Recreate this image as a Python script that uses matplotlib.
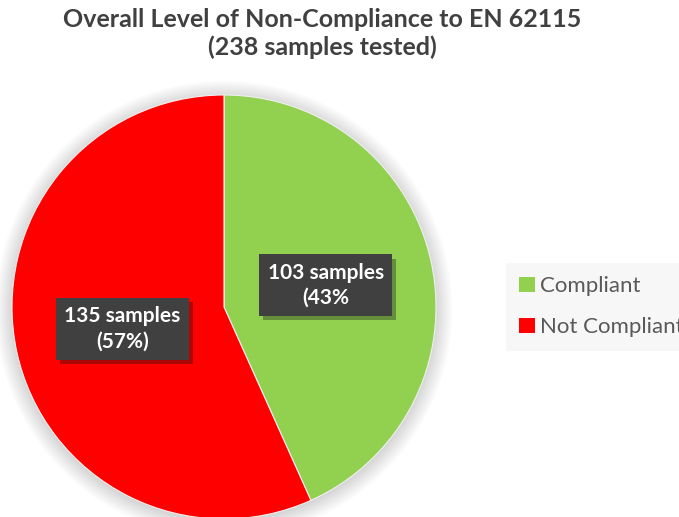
import matplotlib
matplotlib.use("Agg")
import matplotlib.pyplot as plt
import matplotlib.patheffects as pe
from matplotlib.patches import Patch, Circle

categories = ["Compliant", "Not Compliant"]
samples = [103, 135]
box_labels = ["103 samples\n(43%", "135 samples\n(57%)"]
colours = ["#92D050", "#FF0000"]

W, H = 679, 517
fig = plt.figure(figsize=(W / 100, H / 100), dpi=100)
plt.rcParams["font.family"] = ["Lato", "DejaVu Sans"]

# pie centre (224, 307) px, radius 212 px
cx, cy, r = 224, 307, 212
ax = fig.add_axes([(cx - r) / W, (H - cy - r) / H, 2 * r / W, 2 * r / H])

wedges, texts = ax.pie(samples, colors=colours, startangle=90, counterclock=False,
                       labels=box_labels, labeldistance=0.49, radius=1,
                       wedgeprops={"linewidth": 0.8, "edgecolor": "#f0f0f0"},
                       textprops={"color": "white", "fontsize": 15, "fontweight": "bold",
                                  "ha": "center", "va": "center", "linespacing": 1.3})
ax.set_xlim(-1, 1)
ax.set_ylim(-1, 1)
ax.set_aspect("equal")
ax.axis("off")

# soft shadow around the pie
for i in range(14):
    ax.add_patch(Circle((0.0, -0.01), 1 + 0.006 * i, color="black", alpha=0.012, lw=0,
                        zorder=0, clip_on=False))

for t in texts:
    t.set_horizontalalignment("center")
    t.set_bbox({"boxstyle": "square,pad=0.4", "facecolor": "#404040", "edgecolor": "none"})
    t.get_bbox_patch().set_path_effects([pe.SimplePatchShadow(offset=(3, -3), alpha=0.35), pe.Normal()])

fig.text(0.475, 0.985, "Overall Level of Non-Compliance to EN 62115\n(238 samples tested)",
         ha="center", va="top", fontsize=18, fontweight="bold", color="#404040", linespacing=1.25)

# legend sits at the right edge, its last label runs off the canvas like the original
handles = [Patch(facecolor=c, edgecolor="none") for c in colours]
leg = fig.legend(handles, categories, loc="upper left", bbox_to_anchor=(506 / W, 1 - 263 / H),
                 borderaxespad=0, frameon=True, fontsize=16, labelcolor="#595959",
                 handlelength=0.7, handleheight=0.7, handletextpad=0.25, labelspacing=0.95,
                 borderpad=0.6, fancybox=False)
leg.get_frame().set_facecolor("#f5f5f5")
leg.get_frame().set_edgecolor("none")

fig.savefig("out.png", dpi=100)
